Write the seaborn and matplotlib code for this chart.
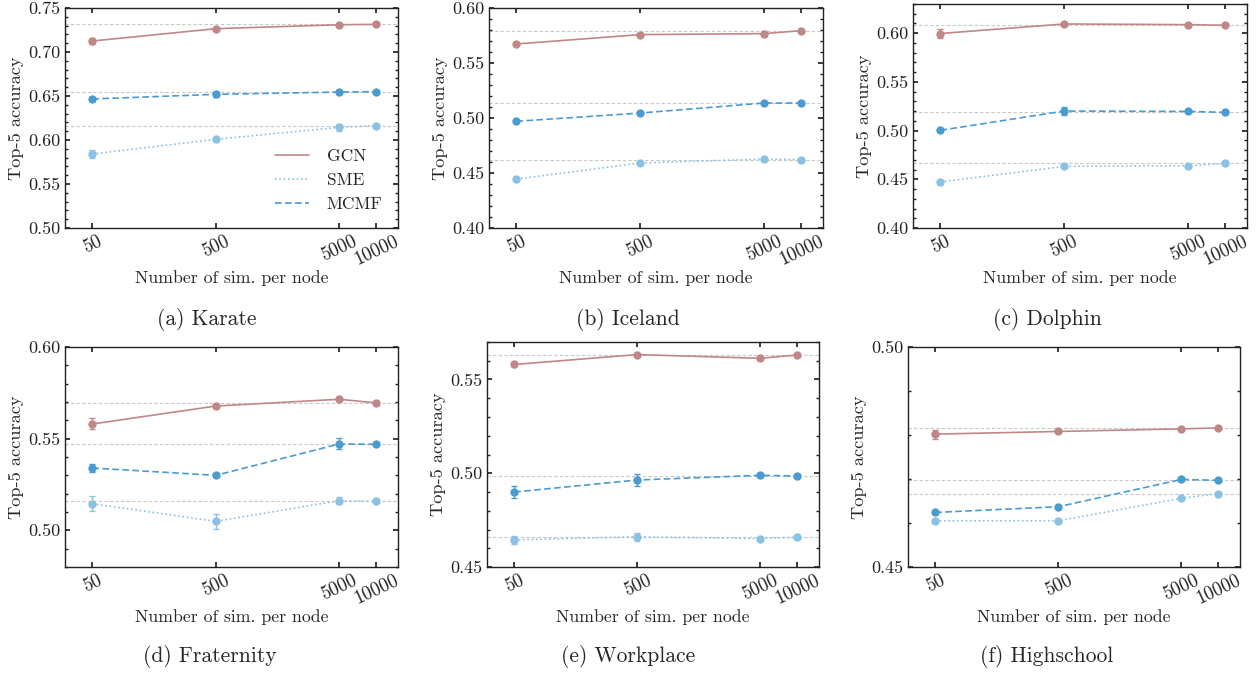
import numpy as np
import pandas as pd
import matplotlib
matplotlib.use("Agg")
import matplotlib.pyplot as plt
import matplotlib.ticker as mticker
import seaborn as sns

# ---------------- data ----------------
sims = [50, 500, 5000, 10000]
sim_labels = ["50", "500", "5000", "10000"]
methods = ["GCN", "SME", "MCMF"]
panels = ["(a) Karate", "(b) Iceland", "(c) Dolphin",
          "(d) Fraternity", "(e) Workplace", "(f) Highschool"]

karate_gcn = [0.7125, 0.7265, 0.7310, 0.7314]
karate_sme = [0.5841, 0.6008, 0.6144, 0.6163]
karate_mcmf = [0.6466, 0.6519, 0.6545, 0.6549]
karate_gcn_err = [0.003, 0.001, 0.001, 0.001]
karate_sme_err = [0.004, 0.001, 0.004, 0.001]
karate_mcmf_err = [0.002, 0.003, 0.001, 0.001]

iceland_gcn = [0.5673, 0.5758, 0.5767, 0.5794]
iceland_sme = [0.4445, 0.4591, 0.4627, 0.4621]
iceland_mcmf = [0.4970, 0.5045, 0.5136, 0.5136]
iceland_gcn_err = [0.001, 0.001, 0.002, 0.001]
iceland_sme_err = [0.002, 0.001, 0.002, 0.001]
iceland_mcmf_err = [0.001, 0.001, 0.001, 0.001]

dolphin_gcn = [0.5997, 0.6095, 0.6088, 0.6082]
dolphin_sme = [0.4473, 0.4633, 0.4639, 0.4663]
dolphin_mcmf = [0.5003, 0.5201, 0.5197, 0.5187]
dolphin_gcn_err = [0.005, 0.001, 0.001, 0.001]
dolphin_sme_err = [0.002, 0.001, 0.001, 0.001]
dolphin_mcmf_err = [0.001, 0.004, 0.001, 0.001]

fraternity_gcn = [0.5580, 0.5678, 0.5715, 0.5695]
fraternity_sme = [0.5145, 0.5049, 0.5162, 0.5158]
fraternity_mcmf = [0.5340, 0.5300, 0.5471, 0.5469]
fraternity_gcn_err = [0.003, 0.001, 0.001, 0.001]
fraternity_sme_err = [0.004, 0.004, 0.002, 0.001]
fraternity_mcmf_err = [0.002, 0.001, 0.003, 0.001]

workplace_gcn = [0.5580, 0.5633, 0.5613, 0.5631]
workplace_sme = [0.4645, 0.4661, 0.4652, 0.4659]
workplace_mcmf = [0.4900, 0.4964, 0.4989, 0.4985]
workplace_gcn_err = [0.0015, 0.001, 0.001, 0.001]
workplace_sme_err = [0.002, 0.002, 0.001, 0.001]
workplace_mcmf_err = [0.003, 0.003, 0.001, 0.001]

highschool_gcn = [0.4802, 0.4808, 0.4814, 0.4816]
highschool_sme = [0.4605, 0.4605, 0.4656, 0.4667]
highschool_mcmf = [0.4624, 0.4637, 0.4699, 0.4697]
highschool_gcn_err = [0.001, 0.0003, 0.0003, 0.0003]
highschool_sme_err = [0.0003, 0.0003, 0.0003, 0.0003]
highschool_mcmf_err = [0.0003, 0.0003, 0.0003, 0.0003]

ylims = [(0.50, 0.75), (0.40, 0.60), (0.40, 0.63),
         (0.48, 0.60), (0.45, 0.57), (0.45, 0.50)]

datasets = [
    (karate_gcn, karate_sme, karate_mcmf, karate_gcn_err, karate_sme_err, karate_mcmf_err),
    (iceland_gcn, iceland_sme, iceland_mcmf, iceland_gcn_err, iceland_sme_err, iceland_mcmf_err),
    (dolphin_gcn, dolphin_sme, dolphin_mcmf, dolphin_gcn_err, dolphin_sme_err, dolphin_mcmf_err),
    (fraternity_gcn, fraternity_sme, fraternity_mcmf, fraternity_gcn_err, fraternity_sme_err, fraternity_mcmf_err),
    (workplace_gcn, workplace_sme, workplace_mcmf, workplace_gcn_err, workplace_sme_err, workplace_mcmf_err),
    (highschool_gcn, highschool_sme, highschool_mcmf, highschool_gcn_err, highschool_sme_err, highschool_mcmf_err),
]

# ---------------- style ----------------
sns.set_theme(style="ticks")
plt.rcParams.update({
    "font.family": ["cmr10", "DejaVu Serif"],
    "mathtext.fontset": "cm",
    "axes.formatter.use_mathtext": True,
    "xtick.direction": "in",
    "ytick.direction": "in",
    "xtick.top": True,
    "ytick.right": True,
    "axes.edgecolor": "#222222",
    "axes.linewidth": 1.0,
    "xtick.color": "#222222",
    "ytick.color": "#222222",
    "xtick.major.size": 3.5,
    "ytick.major.size": 3.5,
    "ytick.minor.size": 2.0,
    "font.size": 12,
})

palette = {"GCN": "#bf8886", "SME": "#8bc1e2", "MCMF": "#4a9bd0"}
dashes = {"GCN": "", "SME": (1, 1.6), "MCMF": (4, 2)}

fig = plt.figure(figsize=(12.57, 6.75), dpi=100)
W, H = 1257, 675
boxes = [(65, 8, 398, 228), (489, 8, 823, 228), (913, 4, 1247, 228),
         (65, 347, 398, 567), (487, 342, 819, 567), (908, 347, 1240, 567)]
cap_x = [207, 628, 1047, 210, 628, 1047]
cap_y = [319, 319, 319, 657, 657, 657]

for i, (box, dat) in enumerate(zip(boxes, datasets)):
    l, t, r, b = box
    ax = fig.add_axes([l / W, 1 - b / H, (r - l) / W, (b - t) / H])
    gcn, sme, mcmf, e_g, e_s, e_m = dat
    df = pd.DataFrame({
        "sim": sims * 3,
        "acc": list(gcn) + list(sme) + list(mcmf),
        "err": list(e_g) + list(e_s) + list(e_m),
        "method": ["GCN"] * 4 + ["SME"] * 4 + ["MCMF"] * 4,
    })
    ylo, yhi = ylims[i]
    # reference lines at the value for the largest number of simulations
    for m in methods:
        ref = df[(df.method == m) & (df.sim == sims[-1])]["acc"].iloc[0]
        ax.axhline(ref, color="#c8c8c8", lw=0.8, ls=(0, (3, 2)), zorder=0)
    sns.lineplot(data=df, x="sim", y="acc", hue="method", style="method",
                 hue_order=methods, style_order=methods, palette=palette,
                 dashes=dashes, markers={"GCN": "o", "SME": "o", "MCMF": "o"},
                 markersize=6, markeredgewidth=0, linewidth=1.2,
                 errorbar=None, ax=ax, legend=(i == 0))
    for m in methods:
        sub = df[df.method == m]
        ax.errorbar(sub["sim"], sub["acc"], yerr=sub["err"], fmt="none",
                    ecolor=palette[m], elinewidth=1.0, capsize=2, capthick=1.0)
    ax.set_xscale("log")
    ax.set_xlim(30, 15000)
    ax.set_xticks(sims)
    ax.set_xticklabels(sim_labels, rotation=25, ha="center")
    ax.xaxis.set_minor_locator(mticker.NullLocator())
    ax.set_ylim(ylo, yhi)
    ax.yaxis.set_major_locator(mticker.MultipleLocator(0.05))
    ax.yaxis.set_minor_locator(mticker.MultipleLocator(0.01))
    ax.yaxis.set_major_formatter(mticker.FormatStrFormatter("%.2f"))
    ax.tick_params(axis="y", which="both", labelsize=13)
    ax.tick_params(axis="x", which="both", labelsize=13.5)
    ax.set_xlabel("Number of sim. per node", fontsize=12.8, labelpad=1)
    ax.set_ylabel("Top-5 accuracy", fontsize=13.2, labelpad=3)
    if i == 0:
        leg = ax.legend(loc="lower right", frameon=False, fontsize=12.5,
                        handlelength=2.0, handletextpad=1.0)
        for h in leg.get_lines():
            h.set_marker("")
    fig.text(cap_x[i] / W, 1 - cap_y[i] / H, panels[i],
             ha="center", va="center", fontsize=15.5)

fig.savefig("out.png", dpi=100)
